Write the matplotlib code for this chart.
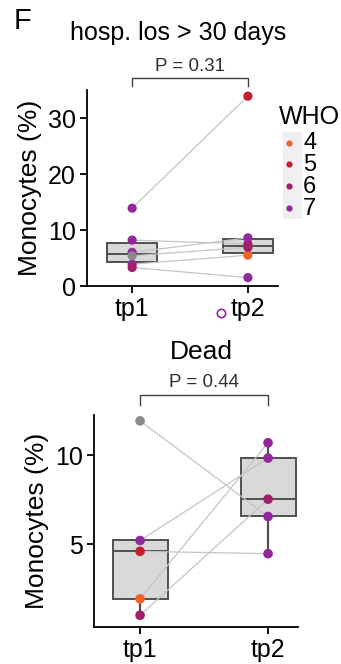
import matplotlib
matplotlib.use("Agg")
import matplotlib.pyplot as plt
from matplotlib.patches import Rectangle

plt.rcParams['font.family'] = ['Liberation Sans', 'DejaVu Sans']

# WHO score colours (None = not available)
who_colors = {4: '#F26328', 5: '#C41F30', 6: '#A11F6B', 7: '#93289C', None: '#8A8A8A'}
who_levels = [4, 5, 6, 7]

# panel 1: hosp. los > 30 days
los_tp1 = [13.9, 8.2, 6.0, 3.9, 3.3, 5.4]
los_tp2 = [33.9, 7.5, 8.6, 5.5, 1.5, 6.9]
los_who = [7, 7, 7, 7, 6, None]
los_who_tp2 = [5, 6, 7, 4, 7, 6]
los_p = "P = 0.31"

# panel 2: Dead
dead_tp1 = [11.92, 5.2, 4.59, 1.92, 1.0]
dead_tp2 = [6.55, 9.83, 4.46, 10.69, 7.52]
dead_who = [None, 7, 5, 4, 6]
dead_who_tp2 = [7, 7, 7, 7, 6]
dead_p = "P = 0.44"

timepoints = ['tp1', 'tp2']

fig = plt.figure(figsize=(3.41, 6.64), dpi=100)


def draw_panel(ax, tp1, tp2, c1, c2, ylim, xlim, yticks, ptxt, ybr, dot_s):
    ax.boxplot([tp1, tp2], positions=[0, 1], widths=0.43, patch_artist=True,
               showfliers=False, whis=1.5,
               boxprops=dict(facecolor='#D9D9D9', edgecolor='#505050', linewidth=1.4),
               medianprops=dict(color='#505050', linewidth=1.4),
               whiskerprops=dict(color='#505050', linewidth=1.6),
               capprops=dict(linewidth=0), zorder=1)
    for a, b in zip(tp1, tp2):
        ax.plot([0, 1], [a, b], color='#C4C4C4', lw=0.9, zorder=2)
    ax.scatter([0] * len(tp1), tp1, c=[who_colors[w] for w in c1], s=dot_s,
               zorder=3, linewidths=0)
    ax.scatter([1] * len(tp2), tp2, c=[who_colors[w] for w in c2], s=dot_s,
               zorder=3, linewidths=0)
    ax.set_xlim(*xlim)
    ax.set_ylim(*ylim)
    ax.set_yticks(yticks)
    ax.set_xticks([0, 1])
    ax.set_xticklabels(timepoints)
    ax.tick_params(labelsize=18, length=5, width=1.3, colors='black', pad=3)
    ax.set_ylabel('Monocytes (%)', fontsize=19, labelpad=4)
    for s in ['top', 'right']:
        ax.spines[s].set_visible(False)
    for s in ['left', 'bottom']:
        ax.spines[s].set_linewidth(1.3)
    # significance bracket
    y_hi, y_lo, y_txt = ybr
    ax.plot([0, 0, 1, 1], [y_lo, y_hi, y_hi, y_lo], color='#404040', lw=1.0,
            clip_on=False)
    ax.text(0.5, y_txt, ptxt, ha='center', va='center', fontsize=13.5,
            color='#303030', clip_on=False)


ax1 = fig.add_axes([87 / 341, 1 - 286 / 664, 191 / 341, 196 / 664])
draw_panel(ax1, los_tp1, los_tp2, los_who, los_who_tp2, (0, 35), (-0.39, 1.26),
           [0, 10, 20, 30], los_p, (37.1, 35.7, 39.2), 44)

ax2 = fig.add_axes([94 / 341, 1 - 627 / 664, 204 / 341, 212 / 664])
draw_panel(ax2, dead_tp1, dead_tp2, dead_who, dead_who_tp2, (0.34, 12.25),
           (-0.36, 1.234), [5, 10], dead_p, (13.37, 12.81, 14.05), 48)

fig.text(0.065, 0.968, 'F', fontsize=21, ha='center', va='center')
fig.text(0.522, 0.950, 'hosp. los > 30 days', fontsize=18, ha='center', va='center')
fig.text(0.591, 0.470, 'Dead', fontsize=19, ha='center', va='center')

# WHO legend
fig.patches.append(Rectangle((283 / 341, 1 - 219 / 664), 19 / 341, 87 / 664,
                             transform=fig.transFigure, facecolor='#EFEFF2',
                             edgecolor='none', zorder=0))
fig.text(279 / 341, 1 - 117 / 664, 'WHO', fontsize=18, ha='left', va='center')
leg_y = [143, 164, 186, 208]
for lvl, yy in zip(who_levels, leg_y):
    fig.add_artist(plt.Line2D([289 / 341], [1 - yy / 664], marker='o', ms=4.5,
                              color=who_colors[lvl], mec='none', ls='none',
                              transform=fig.transFigure))
# labels as one block so the tight rows do not collide
fig.text(303 / 341, 1 - (sum(leg_y) / len(leg_y) + 1) / 664,
         '\n'.join(str(l) for l in who_levels), fontsize=17, ha='left',
         va='center', linespacing=1.0)

# stray open marker next to tp2 label
fig.add_artist(plt.Line2D([221 / 341], [1 - 313 / 664], marker='o', ms=6,
                          mfc='none', mec='#93289C', mew=1.2, ls='none',
                          transform=fig.transFigure))

fig.savefig('out.png', dpi=100)
